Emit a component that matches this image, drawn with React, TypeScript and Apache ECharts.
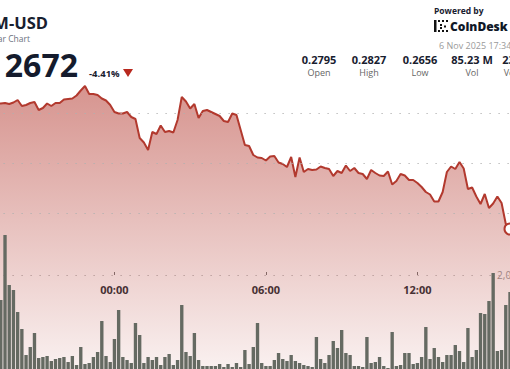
import React, { useEffect, useRef } from 'react';
import * as echarts from 'echarts';

// ---- data ----
const startMinutes = 19 * 60 + 20; // first 10-minute slot (partly off-screen)
const slotMinutes = 10;

const prices = [
  0.2810, 0.28095, 0.2810, 0.2809, 0.28105, 0.2813, 0.2807, 0.2808, 0.2810, 0.2811,
  0.2803, 0.2805, 0.28095, 0.2807, 0.2810, 0.2810, 0.28135, 0.2814, 0.28145, 0.28175,
  0.28225, 0.2827, 0.2819, 0.2819, 0.2818, 0.28145, 0.28125, 0.2808, 0.2801, 0.27995,
  0.27995, 0.2801, 0.2796, 0.2794, 0.2775, 0.27705, 0.2763, 0.2781, 0.2779, 0.27875,
  0.2781, 0.2782, 0.27805, 0.2793, 0.2816, 0.28115, 0.28045, 0.2809, 0.2795, 0.2802,
  0.2803, 0.2801, 0.2799, 0.2797, 0.2792, 0.2791, 0.27995, 0.2798, 0.2783, 0.2768,
  0.2767, 0.2758, 0.27555, 0.2755, 0.27525, 0.27565, 0.2757, 0.27505, 0.2749, 0.2746,
  0.2756, 0.2736, 0.27555, 0.2741, 0.2744, 0.2743, 0.27435, 0.27465, 0.2745, 0.2744,
  0.2737, 0.2742, 0.2740, 0.27475, 0.2742, 0.2745, 0.2740, 0.2739, 0.2734, 0.2743,
  0.2740, 0.27375, 0.2737, 0.27415, 0.27285, 0.2732, 0.2739, 0.27375, 0.2733, 0.2733,
  0.2730, 0.2726, 0.2721, 0.27185, 0.27115, 0.27115, 0.2721, 0.2741, 0.27465, 0.2744,
  0.2751, 0.27445, 0.2724, 0.27255, 0.27165, 0.2709, 0.2719, 0.2705, 0.27095, 0.27165,
  0.2710, 0.2689, 0.2684,
];

const volumes = [
  620000, 1490000, 2816000, 1796000, 1694000, 1245000, 898000, 367000, 531000, 816000,
  306000, 327000, 347000, 245000, 286000, 306000, 327000, 224000, 347000, 163000,
  531000, 184000, 204000, 327000, 429000, 1061000, 347000, 224000, 694000, 1286000,
  327000, 265000, 204000, 1020000, 776000, 204000, 327000, 265000, 327000, 163000,
  327000, 388000, 163000, 265000, 1388000, 429000, 347000, 816000, 265000, 143000,
  143000, 143000, 143000, 184000, 122000, 184000, 122000, 204000, 122000, 469000,
  184000, 531000, 1020000, 204000, 143000, 143000, 265000, 408000, 286000, 245000,
  367000, 245000, 204000, 163000, 143000, 122000, 735000, 286000, 204000, 367000,
  653000, 510000, 878000, 408000, 367000, 143000, 143000, 122000, 735000, 204000,
  224000, 327000, 143000, 102000, 837000, 143000, 163000, 408000, 408000, 184000,
  204000, 327000, 939000, 286000, 510000, 327000, 224000, 367000, 367000, 571000,
  449000, 224000, 918000, 327000, 469000, 1224000, 1204000, 1469000, 2041000, 449000,
  469000, 1388000, 1653000,
];

const categories = prices.map((_, i) => {
  const m = (startMinutes + i * slotMinutes) % 1440;
  return `${String(Math.floor(m / 60)).padStart(2, '0')}:${String(m % 60).padStart(2, '0')}`;
});

const tickLabels = ['00:00', '06:00', '12:00'];
const priceRange = [0.25, 0.29];          // full price scale of the area chart
const priceGridRange = [0.27, 0.28];      // the dotted price grid lines shown
const volumeTickInterval = 2000000;

const pairName = 'M-USD';
const chartSubtitle = 'ar Chart';
const lastPrice = '2672';
const changePct = '-4.41%';
const statValues = ['0.2795', '0.2827', '0.2656', '85.23 M', '23.01 M'];
const statLabels = ['Open', 'High', 'Low', 'Vol', 'Vol (USD)'];
const timestamp = '6 Nov 2025 17:34';

// ---- styles ----
const FONT = '"Open Sans", "Noto Sans", sans-serif';
const LINE = '#b2392e';
const DARK = '#18202f';
const GRID_LEFT = -5.5;
const GRID_RIGHT = -2.1;
const DOTS = { type: [1.2, 7.8], color: '#b0b0b0', width: 1.2 };

export default function App() {
  const ref = useRef<HTMLDivElement>(null);

  useEffect(() => {
    if (!ref.current) return;
    const chart = echarts.init(ref.current, null, { renderer: 'svg' });
    const last = prices.length - 1;
    const isTick = (_i: number, v: string) => tickLabels.includes(v);
    const statX = [319, 369, 420, 472, 523];

    const graphics: any[] = [
      { type: 'text', x: 48, y: 22.5, style: { text: pairName, fontFamily: FONT, fontSize: 16.5, fontWeight: 'bold', fill: DARK, align: 'right', verticalAlign: 'middle' } },
      { type: 'text', x: 30, y: 38.5, style: { text: chartSubtitle, fontFamily: FONT, fontSize: 8.5, fill: '#6b7280', align: 'right', verticalAlign: 'middle' } },
      { type: 'text', x: 78, y: 64, style: { text: lastPrice, fontFamily: FONT, fontSize: 32, fontWeight: 'bold', fill: '#141b2d', align: 'right', verticalAlign: 'middle' } },
      { type: 'text', x: 89, y: 73, style: { text: changePct, fontFamily: FONT, fontSize: 9.5, fontWeight: 'bold', fill: DARK, align: 'left', verticalAlign: 'middle' } },
      { type: 'polygon', shape: { points: [[123, 69], [133, 69], [128, 77]] }, style: { fill: '#b8281e' } },
      { type: 'text', x: 434, y: 10.5, style: { text: 'Powered by', fontFamily: FONT, fontSize: 8.5, fontWeight: 'bold', fill: DARK, align: 'left', verticalAlign: 'middle' } },
      { type: 'rect', shape: { x: 434, y: 20, width: 2.5, height: 12 }, style: { fill: '#111' } },
      { type: 'rect', shape: { x: 438, y: 20, width: 2, height: 2 }, style: { fill: '#111' } },
      { type: 'rect', shape: { x: 442, y: 20, width: 2, height: 2 }, style: { fill: '#111' } },
      { type: 'rect', shape: { x: 446, y: 20, width: 2, height: 2 }, style: { fill: '#111' } },
      { type: 'rect', shape: { x: 438, y: 30, width: 2, height: 2 }, style: { fill: '#111' } },
      { type: 'rect', shape: { x: 442, y: 30, width: 2, height: 2 }, style: { fill: '#111' } },
      { type: 'rect', shape: { x: 446, y: 30, width: 2, height: 2 }, style: { fill: '#111' } },
      { type: 'rect', shape: { x: 440, y: 24, width: 2, height: 2 }, style: { fill: '#111' } },
      { type: 'rect', shape: { x: 440, y: 27, width: 2, height: 2 }, style: { fill: '#111' } },
      { type: 'rect', shape: { x: 444, y: 25.5, width: 2, height: 2 }, style: { fill: '#111' } },
      { type: 'text', x: 450, y: 26.5, style: { text: 'CoinDesk', fontFamily: FONT, fontSize: 12, fontWeight: 800, fill: '#101828', align: 'left', verticalAlign: 'middle' } },
      { type: 'text', x: 439, y: 45, style: { text: timestamp, fontFamily: FONT, fontSize: 9, fill: '#9a9a9a', align: 'left', verticalAlign: 'middle' } },
    ];
    statValues.forEach((v, i) => {
      graphics.push({ type: 'text', x: statX[i], y: 59, style: { text: v, fontFamily: FONT, fontSize: 11, fontWeight: 'bold', fill: DARK, align: 'center', verticalAlign: 'middle' } });
      graphics.push({ type: 'text', x: statX[i], y: 72, style: { text: statLabels[i], fontFamily: FONT, fontSize: 9, fill: '#666', align: 'center', verticalAlign: 'middle' } });
    });

    const gridBase = { left: GRID_LEFT, right: GRID_RIGHT, containLabel: false, outerBoundsMode: 'none' };

    chart.setOption({
      animation: false,
      backgroundColor: '#ffffff',
      grid: [
        // price area: 0.29 at y=13, 0.25 at y=413
        { ...gridBase, top: 13, bottom: -44 },
        // volume bars: baseline at y=373
        { ...gridBase, top: 226, bottom: -4 },
        // time labels on y=275
        { ...gridBase, top: 0, bottom: 94 },
        // dotted price grid lines: 0.28 at y=113, 0.27 at y=213
        { ...gridBase, top: 113, bottom: 156 },
      ],
      xAxis: [
        { type: 'category', gridIndex: 0, data: categories, boundaryGap: true, show: false },
        { type: 'category', gridIndex: 1, data: categories, boundaryGap: true, show: false },
        {
          type: 'category', gridIndex: 2, data: categories, boundaryGap: true,
          axisLine: { show: false },
          axisTick: { show: true, interval: isTick, alignWithLabel: true, inside: true, length: 3, lineStyle: { color: '#777', width: 1 } },
          axisLabel: { interval: isTick, margin: 9, fontFamily: FONT, fontSize: 11, fontWeight: 'bold', color: '#2b2f36' },
          splitLine: { show: false },
        },
        { type: 'category', gridIndex: 3, data: categories, boundaryGap: true, show: false },
      ],
      yAxis: [
        { type: 'value', gridIndex: 0, min: priceRange[0], max: priceRange[1], show: false, splitLine: { show: false } },
        {
          type: 'value', gridIndex: 1, position: 'right', min: 0, max: 3000000, interval: volumeTickInterval,
          axisLine: { show: false }, axisTick: { show: false },
          axisLabel: {
            inside: true, align: 'left', margin: 15, showMinLabel: false, showMaxLabel: false,
            fontFamily: FONT, fontSize: 10, color: '#9a9a9a',
            formatter: (v: number) => v.toLocaleString('en-US'),
          },
          splitLine: { show: true, showMinLine: false, showMaxLine: false, lineStyle: DOTS },
        },
        { type: 'value', gridIndex: 2, show: false },
        {
          type: 'value', gridIndex: 3, min: priceGridRange[0], max: priceGridRange[1], splitNumber: 2,
          axisLine: { show: false }, axisTick: { show: false }, axisLabel: { show: false },
          splitLine: { show: true, showMinLine: true, showMaxLine: true, lineStyle: DOTS },
          z: 5,
        },
      ],
      series: [
        {
          type: 'line',
          xAxisIndex: 0,
          yAxisIndex: 0,
          data: prices,
          showSymbol: false,
          symbol: 'none',
          lineStyle: { color: LINE, width: 2 },
          areaStyle: {
            origin: 'start',
            color: new echarts.graphic.LinearGradient(0, 0, 0, 1, [
              { offset: 0, color: 'rgba(178,52,42,0.75)' },
              { offset: 1, color: 'rgba(178,52,42,0)' },
            ]),
          },
          markPoint: {
            silent: true,
            symbol: 'circle',
            symbolSize: 11,
            label: { show: false },
            itemStyle: { color: '#ffffff', borderColor: LINE, borderWidth: 2 },
            data: [{ coord: [categories[last], prices[last]] }],
          },
          z: 2,
        },
        {
          type: 'bar',
          xAxisIndex: 1,
          yAxisIndex: 1,
          data: volumes,
          barCategoryGap: '20%',
          itemStyle: { color: '#656a62' },
          z: 3,
        },
      ],
      graphic: graphics,
    });

    return () => chart.dispose();
  }, []);

  return (
    <div
      ref={ref}
      style={{ position: 'fixed', left: 0, top: 0, width: 510, height: 369, background: '#fff' }}
    />
  );
}
